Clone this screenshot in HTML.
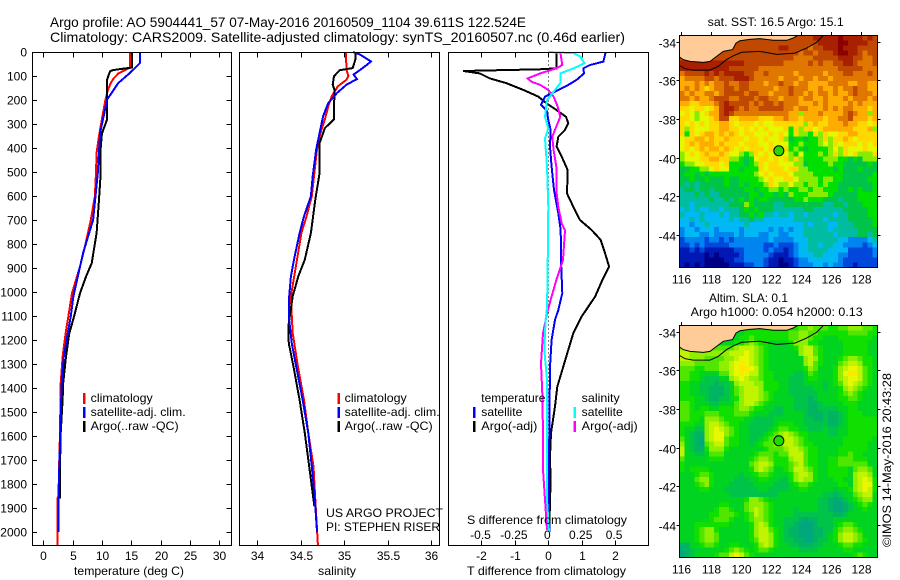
<!DOCTYPE html>
<html>
<head>
<meta charset="utf-8">
<title>Argo profile</title>
<style>
html,body{margin:0;padding:0;background:#fff;}
svg{display:block;}
text{font-family:"Liberation Sans",sans-serif;font-size:12px;fill:#000;}
</style>
</head>
<body>
<svg id="chart" xmlns="http://www.w3.org/2000/svg" width="900" height="580" viewBox="0 0 900 580">
  <rect x="0" y="0" width="900" height="580" fill="#fff"/>
  <text x="50" y="27" style="font-size:14px" textLength="476" lengthAdjust="spacingAndGlyphs">Argo profile: AO 5904441_57 07-May-2016 20160509_1104 39.611S 122.524E</text>
  <text x="50" y="42" style="font-size:14px" textLength="575" lengthAdjust="spacingAndGlyphs">Climatology: CARS2009. Satellite-adjusted climatology: synTS_20160507.nc (0.46d earlier)</text>

  <g id="maps"></g>
  <g id="lines"></g>
  <g id="axes"></g>

  <text x="74" y="575" textLength="110" lengthAdjust="spacingAndGlyphs">temperature (deg C)</text>
  <text x="318" y="575" textLength="38" lengthAdjust="spacingAndGlyphs">salinity</text>
  <text x="467" y="575" textLength="159" lengthAdjust="spacingAndGlyphs">T difference from climatology</text>
  <text x="467" y="524" textLength="160" lengthAdjust="spacingAndGlyphs">S difference from climatology</text>

  <g>
    <rect x="83" y="393" width="2.5" height="11" fill="#f00"/>
    <rect x="83" y="407" width="2.5" height="11" fill="#00f"/>
    <rect x="83" y="421" width="2.5" height="11" fill="#000"/>
    <text x="90.7" y="402" textLength="62" lengthAdjust="spacingAndGlyphs">climatology</text>
    <text x="90.7" y="416" textLength="95" lengthAdjust="spacingAndGlyphs">satellite-adj. clim.</text>
    <text x="90.7" y="430" textLength="88" lengthAdjust="spacingAndGlyphs">Argo(..raw -QC)</text>
  </g>
  <g>
    <rect x="337.5" y="393" width="2.5" height="11" fill="#f00"/>
    <rect x="337.5" y="407" width="2.5" height="11" fill="#00f"/>
    <rect x="337.5" y="421" width="2.5" height="11" fill="#000"/>
    <text x="344.7" y="402" textLength="62" lengthAdjust="spacingAndGlyphs">climatology</text>
    <text x="344.7" y="416" textLength="95" lengthAdjust="spacingAndGlyphs">satellite-adj. clim.</text>
    <text x="344.7" y="430" textLength="88" lengthAdjust="spacingAndGlyphs">Argo(..raw -QC)</text>
  </g>
  <text x="326" y="517" textLength="117" lengthAdjust="spacingAndGlyphs">US ARGO PROJECT</text>
  <text x="326" y="531" textLength="114" lengthAdjust="spacingAndGlyphs">PI: STEPHEN RISER</text>

  <g>
    <text x="481.3" y="402" textLength="64" lengthAdjust="spacingAndGlyphs">temperature</text>
    <rect x="473" y="407" width="2.5" height="11" fill="#00f"/>
    <text x="481.3" y="416" textLength="41" lengthAdjust="spacingAndGlyphs">satellite</text>
    <rect x="473" y="421" width="2.5" height="11" fill="#000"/>
    <text x="481.3" y="430" textLength="56" lengthAdjust="spacingAndGlyphs">Argo(-adj)</text>
    <text x="581.7" y="402" textLength="38" lengthAdjust="spacingAndGlyphs">salinity</text>
    <rect x="573.5" y="407" width="2.5" height="11" fill="#0ff"/>
    <text x="581.7" y="416" textLength="41" lengthAdjust="spacingAndGlyphs">satellite</text>
    <rect x="573.5" y="421" width="2.5" height="11" fill="#f0f"/>
    <text x="581.7" y="430" textLength="56" lengthAdjust="spacingAndGlyphs">Argo(-adj)</text>
  </g>

  <text x="707.7" y="26" textLength="136" lengthAdjust="spacingAndGlyphs">sat. SST: 16.5 Argo: 15.1</text>
  <text x="709" y="302" textLength="79" lengthAdjust="spacingAndGlyphs">Altim. SLA: 0.1</text>
  <text x="690.7" y="316" textLength="172" lengthAdjust="spacingAndGlyphs">Argo h1000: 0.054 h2000: 0.13</text>
  <text transform="translate(891,547) rotate(-90)" x="0" y="0" textLength="174" lengthAdjust="spacingAndGlyphs">©IMOS 14-May-2016 20:43:28</text>
</svg>

<script>
// ---------- profile data: depth (m) and value pairs ----------
const depthTicks = [0,100,200,300,400,500,600,700,800,900,1000,1100,1200,1300,1400,1500,1600,1700,1800,1900,2000];
const tempTicks = [0,5,10,15,20,25,30];
const salTicks = [34,34.5,35,35.5,36];
const salTickLabels = ['34','34.5','35','35.5','36'];
const tDiffTicks = [-2,-1,0,1,2];
const sDiffTicks = [-0.5,-0.25,0,0.25,0.5];
const sDiffTickLabels = ['-0.5','-0.25','0','0.25','0.5'];

const climTempDepth = [0,65,75,90,110,130,160,200,280,350,420,500,600,700,811,894,1005,1103,1172,1269,1380,1588,1727,1850,1860,2054];
const climTempValue = [14.8,14.8,14,12.8,12,11.5,11,10.6,10,9.5,9.1,9,8.8,8.1,7.1,6.26,4.9,4.27,3.8,3.3,2.97,2.85,2.7,2.6,2.4,2.4];
const argoTempDepth = [0,65,70,75,80,100,115,200,280,340,400,504,615,754,880,935,1005,1103,1172,1269,1380,1450,1588,1727,1860];
const argoTempValue = [15.1,15.1,13.5,12,11.4,11.1,10.9,10.9,10.9,10,9.8,9.8,9.5,9.1,8.26,7.3,6.26,5.24,4.44,3.87,3.4,3.3,2.97,2.85,2.85];
const satTempDepth = [0,35,46,87,129,198,337,504,700,837,1018,1103,1172,1269,1380,1520,1727,1866,2000];
const satTempValue = [16.5,16.5,16.5,14.8,12.8,10.9,9.7,9.3,8.5,6.8,5.13,4.67,4.16,3.5,3.14,2.97,2.73,2.56,2.56];

const climSalDepth = [0,75,100,115,143,184,226,281,337,406,517,601,684,754,1018,1103,1172,1241,1311,1450,1588,1727,1866,2054];
const climSalValue = [35.02,35.03,35.05,35.03,34.93,34.86,34.82,34.78,34.73,34.69,34.655,34.63,34.57,34.51,34.39,34.4,34.41,34.44,34.47,34.54,34.59,34.65,34.67,34.7];
const argoSalDepth = [0,32,67,76,101,136,157,281,317,379,504,615,754,865,935,1018,1144,1214,1311,1450,1588,1727,1894];
const argoSalValue = [35.13,35.13,35.1,34.95,34.885,34.87,34.89,34.885,34.78,34.72,34.72,34.67,34.62,34.55,34.475,34.41,34.36,34.365,34.42,34.49,34.55,34.6,34.66];
const satSalDepth = [0,10,39,60,94,113,136,171,212,268,337,406,517,601,684,754,865,935,1018,1116,1214,1311,1450,1588,1727,1866,2000];
const satSalValue = [35.1,35.18,35.31,35.24,35.11,35.15,35.03,34.92,34.82,34.76,34.72,34.68,34.64,34.62,34.54,34.49,34.425,34.39,34.37,34.37,34.4,34.45,34.525,34.59,34.63,34.665,34.69];

const argoTDiffDepth = [0,54,68,72,79,89,110,130,158,186,214,242,270,297,325,353,394,436,492,589,645,700,742,783,839,894,950,1019,1102,1172,1241,1311,1394,1477,1588,1686,1797,1866,2000];
const argoTDiffValue = [0.25,0.25,0.25,-0.25,-2.55,-2.05,-1.75,-1.25,-0.75,-0.3,-0.05,0.25,0.53,0.6,0.5,0.3,0.25,0.4,0.58,0.56,0.75,0.95,1.3,1.57,1.7,1.82,1.62,1.4,1,0.75,0.6,0.45,0.27,0.2,0.08,0.05,0.07,0.05,0.03];
const satTDiffDepth = [0,40,54,68,89,116,137,158,186,221,242,283,325,394,478,575,672,742,867,1005,1075,1116,1200,1311,1588,1755,2000];
const satTDiffValue = [1.72,1.65,1.25,1.05,1.07,0.85,0.6,0.3,-0.1,-0.22,-0.05,0,0.07,0.05,0.1,0.17,0.3,0.37,0.38,0.42,0.3,0.2,0.1,0.05,0.03,0.02,0.03];
const satSDiffDepth = [0,5,19,47,68,89,110,130,158,200,270,318,360,478,645,922,1068,1116,1241,1366,1588,1769,1866,2000];
const satSDiffValue = [0,0.19,0.24,0.27,0.19,0.09,0.09,0.09,0.05,-0.01,-0.025,0,-0.025,-0.01,0,-0.005,-0.01,-0.02,-0.03,-0.01,-0.01,-0.01,-0.01,0.005];
const argoSDiffDepth = [0,54,68,89,110,124,137,158,186,228,270,311,353,408,478,575,645,714,742,867,950,1068,1089,1172,1297,1422,1588,1741,1866,1991];
const argoSDiffValue = [0.09,0.105,0.06,-0.06,-0.155,-0.125,-0.06,0,0.04,0.07,0.09,0.06,0.03,0.04,0.06,0.06,0.075,0.1,0.125,0.11,0.06,0,-0.01,-0.04,-0.055,-0.045,-0.04,-0.04,-0.025,-0.01];

// ---------- map data: each digit is one grid cell, north row first, 40 x 46 cells ----------
const mapLonTicks = [116,118,120,122,124,126,128];
const mapLatTicks = [34,36,38,40,42,44];
const argoLon = 122.524;
const argoLat = 39.611;
const coastLon = [115.87,116.13,116.58,117.47,117.92,118.36,118.81,119.43,119.66,119.92,120.59,121.26,122.15,123.05,123.49,123.83];
const coastLat = [34.79,34.93,35.02,35.07,35.02,34.76,34.5,34.41,34.07,33.95,33.88,33.84,33.93,33.93,33.81,33.65];
const shelfLon = [115.87,116.25,116.8,117.92,118.47,119.03,119.48,120.04,121.26,122.38,123.6,124.38,125.05,125.54];
const shelfLat = [35.23,35.4,35.47,35.47,35.28,34.93,34.73,34.55,34.5,34.66,34.59,34.33,34.03,33.65];

const sstRows = [
"ddddd ddddd ddddd ddddd ddddd ddeee eefee eeded",
"ddddd ddddd ddddd ddddd ddddd dddee eeffe eeedd",
"ddddd ddddd ddddd ddddd eeddd dcdde eefee edddd",
"ddddd ddddd ddddd ddddd ddddc ddcdd deffe edcdd",
"ddddd ddddd ddddd ddddd dddcc ccddd ddeee ddccd",
"eeeee eeeee eeedd ddddd dcccc cdcdc cddee dcccd",
"eeeee eeeee ddddd dcccc ccccc ccccc ccddd ddccc",
"cdddd edede eeedd ccdcc cccbc ccccb cccdd cccdc",
"bcccc ddcdd deeed ccccc bcccb ccbcc bcccc ccccc",
"bbbcb cbccd ccddc ccbcc dccbc cbbbb ccccb bccbb",
"bcbcb abccd dcddc ccccb ccdcc cbbcb bcbcc dccbb",
"cbcbb ccbcd dddcd dccbc ccdcc bcbcc bcbbc dcccb",
"ccbcb bcddd ccddd cddcc bcccb ccbbc bbbcb cccbc",
"bbaab bbcde ddddc dcddc dcccb bbcbc bbbbc bcbbb",
"aa9aa 9abde edcdc cdddd dccbc cbbbc bcbcc bbbab",
"9a989 abbde dcccc ccccc ccbb8 bbbcb bbbcd cbb8b",
"aa989 9abdd aabbb baaab bcbba bbbba bbccd bbbab",
"a9a9a 9aabb a9aaa 9a99a aaaaa 8abaa bbbcb baa9a",
"a8a99 9aabb aa9a9 a9a99 9a7a8 aa9ab bbbbb aaab8",
"a7a9a bbaba ba9aa 999a9 a97a8 87a8a 99aab baaaa",
"9aabb abaab aaa9a a9a99 a8677 6778a 8aaba 9aaaa",
"9abab bbaba aa9aa a99a9 99778 77789 8a9aa a9a9a",
"9a9ab abbab a9a9a aa9a9 9a787 67777 898a9 99a99",
"89a9a baaba 99878 a9a9a a9879 77787 8a8a9 a888a",
"8999a abbaa 88767 9aa9a 9a8a8 77778 88776 76888",
"78899 aaa9a 77767 8a9aa 99988 67777 87766 66676",
"66778 89a99 77677 7a9aa a9aa8 87777 76766 67666",
"67767 67777 77777 89a9a aa988 88777 77766 66667",
"66766 76667 66777 789a9 9aa98 88878 87766 66677",
"65656 66667 66767 778a9 88988 78878 77666 66667",
"56656 65666 66677 67788 78778 87887 77667 67667",
"55565 65566 66667 76776 76877 78888 76666 67777",
"55555 56556 56767 67766 66677 87776 66566 67777",
"55455 55555 66687 66665 56666 66665 56656 66777",
"45454 45545 55676 76665 55555 66555 55566 66677",
"54445 44454 55667 67554 55455 45555 54556 66677",
"44545 44444 54556 55444 44455 55554 55556 66667",
"44344 54444 44454 44444 44444 54555 44555 66667",
"34434 44344 44344 44434 34344 55555 45555 56666",
"34443 34333 34344 43344 33444 55555 54555 56656",
"23333 23323 23333 33343 33344 45555 55443 33345",
"22323 22222 33333 33223 22234 45545 54433 33234",
"11212 11111 12233 33232 21234 45555 44442 22223",
"11111 01011 11233 33321 11234 44554 44332 22223",
"11111 00001 12233 33211 01123 34444 44322 22222",
"10101 00000 11122 33211 00123 33443 43322 12222"
];

const slaRows = [
"33333 33333 33334 44444 44445 56555 44556 66554",
"33333 33333 33344 44444 44556 65544 44445 55544",
"33333 33333 33445 44444 44556 65443 33444 44443",
"55555 33333 34456 54433 33466 64433 33344 44433",
"66655 55555 56777 65433 33346 77543 33344 44433",
"77666 66666 77787 65433 33336 77543 33344 44433",
"77666 55556 67887 65433 33333 67643 33456 65443",
"66655 55566 78987 65433 33333 67543 33567 76443",
"55544 55566 78998 75433 33333 46533 34678 87543",
"55443 33355 78987 75443 33322 35433 34689 97543",
"55443 22233 67876 65443 33222 34433 34678 87543",
"44332 22122 36777 66444 33222 33332 34578 76543",
"44332 21112 35677 76444 33222 22332 33467 65433",
"44332 21112 35677 76543 33222 22233 33456 54333",
"44433 21122 34677 76543 33322 21233 33445 54333",
"55433 32233 35677 65433 33322 21123 33344 43333",
"55434 43344 45665 44332 23322 21122 22334 43333",
"55444 55544 45554 33322 23333 21112 11234 44333",
"55443 66654 44433 22223 33333 22112 11234 44444",
"44433 67765 44332 22223 44433 22222 11234 44444",
"43322 67876 54332 22234 55443 32223 22334 44444",
"43211 67886 54332 22345 67654 43333 22334 44444",
"53210 67885 44332 23456 77765 43333 33344 44443",
"63210 56775 44332 34556 67765 44333 33344 44433",
"73211 46664 33333 33455 56776 54433 33444 44433",
"73322 35553 33333 45554 55777 54433 33445 44333",
"53333 34443 33334 56654 44677 54433 44555 44433",
"43333 33333 33335 67764 44567 54433 44555 55533",
"43444 43333 33334 67653 34577 65433 44443 56653",
"33345 54333 33233 45543 33467 76433 44443 67763",
"33356 64333 32223 34433 22467 66433 34433 67874",
"33345 64333 22222 33332 22345 54333 33443 67884",
"33334 43332 22222 23322 22334 43333 32334 67874",
"33333 33333 22222 22222 33333 33332 21233 56773",
"33333 33333 33346 65433 33333 33322 10123 45663",
"33333 33344 33356 66543 33333 33322 10012 34543",
"33333 33455 43356 76543 33323 33322 10012 33433",
"33333 34455 54345 76543 33322 22222 21123 33333",
"33333 34555 43345 66543 32221 01122 23333 33333",
"33344 44444 33334 67643 32210 00122 23455 43333",
"33345 66433 33334 67754 32110 00112 24566 54333",
"33345 66533 33334 67764 32110 00112 34677 65333",
"33345 66533 33334 57764 32211 00122 34677 65433",
"11334 55433 44333 46764 33221 11223 33455 44333",
"01233 33334 56543 45543 33332 22233 33344 33333",
"01233 33455 78754 33333 33333 33333 33333 45433"
];

const NS = 'http://www.w3.org/2000/svg';
const gMaps = document.getElementById('maps');
const gLines = document.getElementById('lines');
const gAxes = document.getElementById('axes');

// ---------- axis functions ----------
const yDepth = d => 52 + d * 0.24;
const xTemp = v => 43.3 + v * 5.86;
const xSal = v => 257 + (v - 34) * 87;
const xTDiff = v => 548.3 + v * 33.4;
const xSDiff = v => 548.3 + v * 133.6;
const xLon = lon => 681.3 + (lon - 116) * 14.95;
const yLat = (lat, top) => top + 6.7 + (lat - 34) * 19.3;

function seg(x1, y1, x2, y2, parent, w) {
  const el = document.createElementNS(NS, 'line');
  
  
  el.setAttribute('x1', x1);
  el.setAttribute('y1', y1);
  el.setAttribute('x2', x2);
  el.setAttribute('y2', y2);
  el.setAttribute('stroke', '#000');
  el.setAttribute('stroke-width', w || 1);
  el.setAttribute('shape-rendering', 'crispEdges');
  parent.appendChild(el);
  return el;
}
function label(x, y, str, anchor, parent) {
  const el = document.createElementNS(NS, 'text');
  
  
  el.setAttribute('x', x);
  el.setAttribute('y', y);
  el.setAttribute('text-anchor', anchor);
  el.textContent = str;
  parent.appendChild(el);
  return el;
}
function frame(x, y, w, h, parent) {
  const el = document.createElementNS(NS, 'rect');
  
  
  el.setAttribute('x', x);
  el.setAttribute('y', y);
  el.setAttribute('width', w);
  el.setAttribute('height', h);
  el.setAttribute('fill', 'none');
  el.setAttribute('stroke', '#000');
  el.setAttribute('stroke-width', 1);
  el.setAttribute('shape-rendering', 'crispEdges');
  parent.appendChild(el);
}
function profile(depths, values, xf, color, name, width) {
  const pts = depths.map((d, i) => xf(values[i]).toFixed(1) + ',' + yDepth(d).toFixed(1)).join(' ');
  const el = document.createElementNS(NS, 'polyline');
  
  
  el.setAttribute('points', pts);
  el.setAttribute('fill', 'none');
  el.setAttribute('stroke', color);
  el.setAttribute('stroke-width', width || 2);
  el.setAttribute('shape-rendering', 'crispEdges');
  gLines.appendChild(el);
}

// ---------- profile panels ----------
const panelTop = 52.5, panelBottom = 545.5;

profile(climTempDepth, climTempValue, xTemp, '#f00', 'temperature-climatology-line');
profile(argoTempDepth, argoTempValue, xTemp, '#000', 'temperature-argo-line');
profile(satTempDepth, satTempValue, xTemp, '#00f', 'temperature-satellite-line');

profile(climSalDepth, climSalValue, xSal, '#f00', 'salinity-climatology-line');
profile(argoSalDepth, argoSalValue, xSal, '#000', 'salinity-argo-line');
profile(satSalDepth, satSalValue, xSal, '#00f', 'salinity-satellite-line');

const zeroLine = seg(xTDiff(0), panelTop, xTDiff(0), yDepth(2000), gLines, 1);

zeroLine.setAttribute('stroke-dasharray', '1 3');

profile(argoTDiffDepth, argoTDiffValue, xTDiff, '#000', 't-diff-argo-line');
profile(satTDiffDepth, satTDiffValue, xTDiff, '#00f', 't-diff-satellite-line');
profile(argoSDiffDepth, argoSDiffValue, xSDiff, '#f0f', 's-diff-argo-line');
profile(satSDiffDepth, satSDiffValue, xSDiff, '#0ff', 's-diff-satellite-line');

frame(32.5, panelTop, 199, 493, gAxes);
frame(239.5, panelTop, 200, 493, gAxes);
frame(448.5, panelTop, 200, 493, gAxes);

depthTicks.forEach(d => {
  const y = Math.round(yDepth(d)) + 0.5;
  seg(32.5, y, 37, y, gAxes);
  seg(226.5, y, 231.5, y, gAxes);
  label(27, y + 4, String(d), 'end', gAxes);
});
tempTicks.forEach(v => {
  const x = Math.round(xTemp(v)) + 0.5;
  seg(x, panelTop, x, panelTop + 5, gAxes);
  seg(x, panelBottom, x, panelBottom - 5, gAxes);
  label(x, 560, String(v), 'middle', gAxes);
});
salTicks.forEach((v, i) => {
  const x = Math.round(xSal(v)) + 0.5;
  seg(x, panelTop, x, panelTop + 5, gAxes);
  seg(x, panelBottom, x, panelBottom - 5, gAxes);
  label(x, 560, salTickLabels[i], 'middle', gAxes);
});
tDiffTicks.forEach(v => {
  const x = Math.round(xTDiff(v)) + 0.5;
  seg(x, panelTop, x, panelTop + 5, gAxes);
  seg(x, panelBottom, x, panelBottom - 5, gAxes);
  label(x, 560, String(v), 'middle', gAxes);
});
sDiffTicks.forEach((v, i) => {
  label(xSDiff(v) - 1, 539, sDiffTickLabels[i], 'middle', gAxes);
});

// ---------- maps ----------
const sstPalette = ['#000084','#0018b4','#0048dc','#0084f0','#00b8f4','#00bca0','#00c448','#00e000','#88ec00','#e4f800','#ffd800','#ffac00','#e07800','#c04800','#a82000','#8c0000'];
const slaPalette = ['#00a87c','#00b464','#00c44a','#00d420','#10e000','#50e600','#90ee00','#c0f400','#e8f800','#ffe800'];

function drawMap(rows, palette, top, prefix) {
  const left = 679.5, cw = 198 / 40, ch = 232 / 46;
  const clipId = prefix + '-clip';
  const clip = document.createElementNS(NS, 'clipPath');
  clip.setAttribute('id', clipId);
  const cr = document.createElementNS(NS, 'rect');
  cr.setAttribute('x', left);
  cr.setAttribute('y', top);
  cr.setAttribute('width', 198);
  cr.setAttribute('height', 232);
  clip.appendChild(cr);
  gMaps.appendChild(clip);

  const g = document.createElementNS(NS, 'g');
  
  
  g.setAttribute('clip-path', 'url(#' + clipId + ')');
  gMaps.appendChild(g);

  rows.forEach((row, r) => {
    const cells = row.replace(/ /g, '');
    for (let c = 0; c < cells.length; c++) {
      const el = document.createElementNS(NS, 'rect');
      
      
      el.setAttribute('x', (left + c * cw).toFixed(2));
      el.setAttribute('y', (top + r * ch).toFixed(2));
      el.setAttribute('width', (cw + 0.4).toFixed(2));
      el.setAttribute('height', (ch + 0.4).toFixed(2));
      el.setAttribute('fill', palette[parseInt(cells[c], 16)]);
      el.setAttribute('shape-rendering', 'crispEdges');
      g.appendChild(el);
    }
  });

  const landPts = coastLon.map((lon, i) => xLon(lon).toFixed(1) + ',' + yLat(coastLat[i], top - 0.5).toFixed(1));
  const land = document.createElementNS(NS, 'polygon');
  
  
  land.setAttribute('points', landPts.join(' ') + ' ' + xLon(coastLon[coastLon.length - 1]).toFixed(1) + ',' + top + ' ' + left + ',' + top);
  land.setAttribute('fill', '#ffcc99');
  land.setAttribute('stroke', '#000');
  land.setAttribute('stroke-width', 1);
  land.setAttribute('clip-path', 'url(#' + clipId + ')');
  gMaps.appendChild(land);

  const shelf = document.createElementNS(NS, 'polyline');
  
  
  shelf.setAttribute('points', shelfLon.map((lon, i) => xLon(lon).toFixed(1) + ',' + yLat(shelfLat[i], top - 0.5).toFixed(1)).join(' '));
  shelf.setAttribute('fill', 'none');
  shelf.setAttribute('stroke', '#000');
  shelf.setAttribute('stroke-width', 1);
  shelf.setAttribute('clip-path', 'url(#' + clipId + ')');
  gMaps.appendChild(shelf);

  const marker = document.createElementNS(NS, 'circle');
  
  
  marker.setAttribute('cx', xLon(argoLon));
  marker.setAttribute('cy', yLat(argoLat, top - 0.5) + 0.8);
  marker.setAttribute('r', 5);
  marker.setAttribute('fill', prefix === 'sst' ? '#28d800' : '#1edc00');
  marker.setAttribute('stroke', '#000');
  marker.setAttribute('stroke-width', 1);
  gMaps.appendChild(marker);

  frame(left, top, 198, 232, gAxes);
  mapLonTicks.forEach(lon => {
    const x = Math.round(xLon(lon)) + 0.5;
    seg(x, top, x, top - 3.5, gAxes);
    label(x, top + 248, String(lon), 'middle', gAxes);
  });
  mapLatTicks.forEach(lat => {
    const y = Math.round(yLat(lat, top - 0.5)) + 0.5;
    seg(left - 3, y, left, y, gAxes);
    seg(left + 198, y, left + 201, y, gAxes);
    label(676, y + 5, '-' + lat, 'end', gAxes);
  });
}
drawMap(sstRows, sstPalette, 35.5, 'sst');
drawMap(slaRows, slaPalette, 325.5, 'sla');
</script>
</body>
</html>
